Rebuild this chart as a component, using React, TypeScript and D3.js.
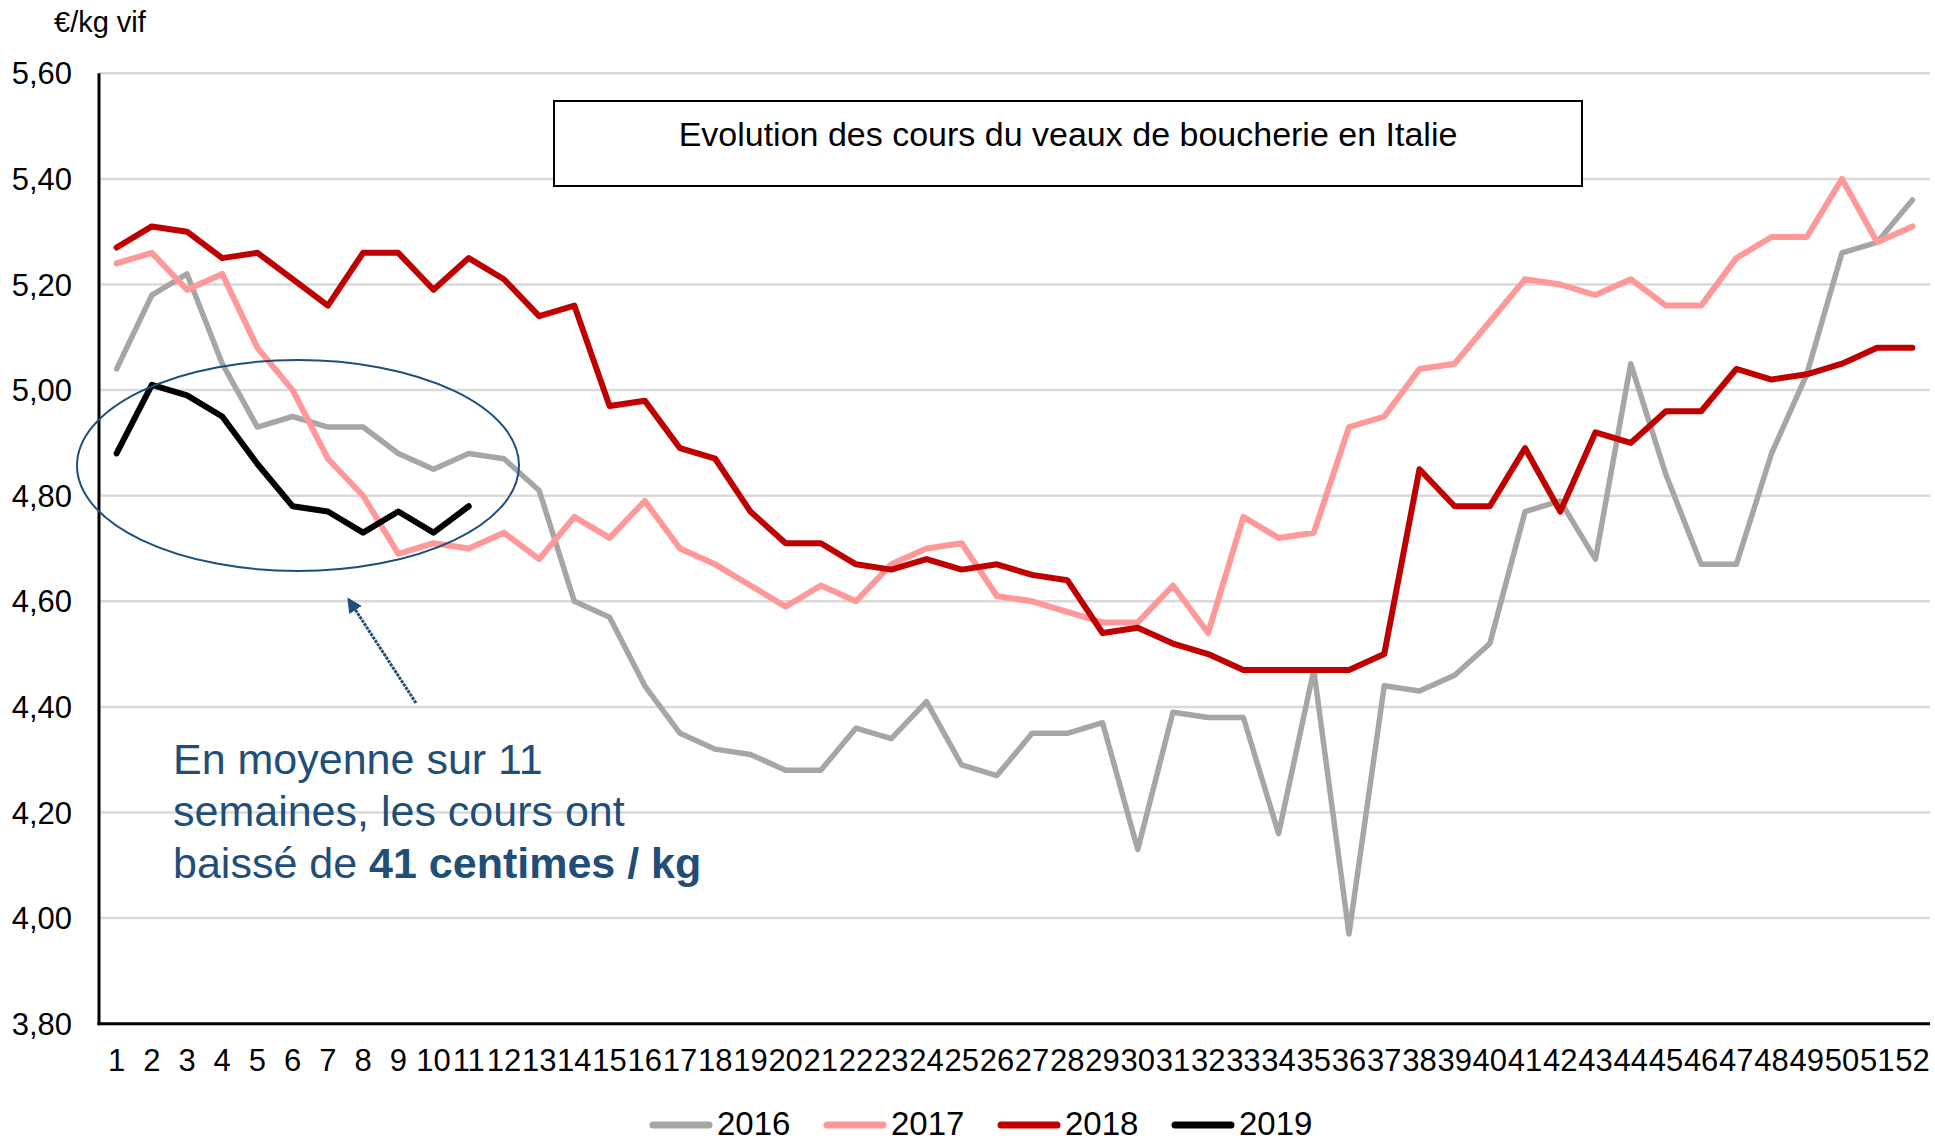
import React from "react";
import * as d3 from "d3";

const weeks: number[] = Array.from({ length: 52 }, (_, i) => i + 1);

const s2016: number[] = [5.04, 5.18, 5.22, 5.05, 4.93, 4.95, 4.93, 4.93, 4.88, 4.85, 4.88, 4.87, 4.81, 4.60, 4.57, 4.44, 4.35, 4.32, 4.31, 4.28, 4.28, 4.36, 4.34, 4.41, 4.29, 4.27, 4.35, 4.35, 4.37, 4.13, 4.39, 4.38, 4.38, 4.16, 4.47, 3.97, 4.44, 4.43, 4.46, 4.52, 4.77, 4.79, 4.68, 5.05, 4.84, 4.67, 4.67, 4.88, 5.03, 5.26, 5.28, 5.36];
const s2017: number[] = [5.24, 5.26, 5.19, 5.22, 5.08, 5.00, 4.87, 4.80, 4.69, 4.71, 4.70, 4.73, 4.68, 4.76, 4.72, 4.79, 4.70, 4.67, 4.63, 4.59, 4.63, 4.60, 4.67, 4.70, 4.71, 4.61, 4.60, 4.58, 4.56, 4.56, 4.63, 4.54, 4.76, 4.72, 4.73, 4.93, 4.95, 5.04, 5.05, 5.13, 5.21, 5.20, 5.18, 5.21, 5.16, 5.16, 5.25, 5.29, 5.29, 5.40, 5.28, 5.31];
const s2018: number[] = [5.27, 5.31, 5.30, 5.25, 5.26, 5.21, 5.16, 5.26, 5.26, 5.19, 5.25, 5.21, 5.14, 5.16, 4.97, 4.98, 4.89, 4.87, 4.77, 4.71, 4.71, 4.67, 4.66, 4.68, 4.66, 4.67, 4.65, 4.64, 4.54, 4.55, 4.52, 4.50, 4.47, 4.47, 4.47, 4.47, 4.50, 4.85, 4.78, 4.78, 4.89, 4.77, 4.92, 4.90, 4.96, 4.96, 5.04, 5.02, 5.03, 5.05, 5.08, 5.08];
const s2019: number[] = [4.88, 5.01, 4.99, 4.95, 4.86, 4.78, 4.77, 4.73, 4.77, 4.73, 4.78];

const yTicks: number[] = [3.8, 4.0, 4.2, 4.4, 4.6, 4.8, 5.0, 5.2, 5.4, 5.6];
const seriesNames: string[] = ["2016", "2017", "2018", "2019"];
const seriesColors: string[] = ["#A6A6A6", "#FF9999", "#C00000", "#000000"];
const seriesData: number[][] = [s2016, s2017, s2018, s2019];

const title = "Evolution des cours du veaux de boucherie en Italie";
const unitLabel = "€/kg vif";
const noteLines: string[] = ["En moyenne sur 11", "semaines, les cours ont", "baissé de "];
const noteBold = "41 centimes / kg";

const W = 1935;
const H = 1138;
const FONT = "'Liberation Sans', Arial, sans-serif";
const BLUE = "#1F4E79";

export default function App() {
  const left = 99;
  const right = 1930;
  const top = 73.3;
  const bottom = 1023.7;

  const x = d3.scalePoint<number>().domain(weeks).range([left, right]).padding(0.5);
  const y = d3.scaleLinear().domain([3.8, 5.6]).range([bottom, top]);

  const line = d3
    .line<number>()
    .x((_, i) => x(weeks[i]) as number)
    .y((d) => y(d));

  const fmt = (v: number) => v.toFixed(2).replace(".", ",");

  return (
    <svg
      width={W}
      height={H}
      style={{ position: "absolute", left: 0, top: 0, background: "#fff" }}
      fontFamily={FONT}
    >
      <rect x={0} y={0} width={W} height={H} fill="#fff" />
      {/* gridlines */}
      {yTicks
        .filter((t) => t > 3.81)
        .map((t) => (
          <line key={t} x1={left} x2={right} y1={y(t)} y2={y(t)} stroke="#D9D9D9" strokeWidth={2.5} />
        ))}
      {/* y tick labels */}
      {yTicks.map((t) => (
        <text key={"l" + t} x={72} y={y(t)} dy="0.36em" textAnchor="end" fontSize={31} fill="#000">
          {fmt(t)}
        </text>
      ))}
      {/* x tick labels */}
      {weeks.map((w) => (
        <text key={"w" + w} x={x(w) as number} y={1071} textAnchor="middle" fontSize={31} fill="#000">
          {w}
        </text>
      ))}
      {/* title box */}
      <rect x={554} y={101} width={1028} height={85} fill="#fff" stroke="#000" strokeWidth={2} />
      <text x={1068} y={146} textAnchor="middle" fontSize={34} fill="#000">
        {title}
      </text>
      {/* series */}
      {seriesData.map((d, i) => (
        <path
          key={seriesNames[i]}
          d={line(d) as string}
          fill="none"
          stroke={seriesColors[i]}
          strokeWidth={i === 0 ? 5.5 : 6}
          strokeLinejoin="round"
          strokeLinecap="round"
        />
      ))}
      {/* axes */}
      <line x1={left} x2={left} y1={top} y2={bottom + 1.5} stroke="#000" strokeWidth={3} />
      <line x1={left - 1.5} x2={right} y1={bottom} y2={bottom} stroke="#000" strokeWidth={3} />
      {/* unit label */}
      <text x={54} y={32} fontSize={29} fill="#000">
        {unitLabel}
      </text>
      {/* ellipse */}
      <ellipse cx={298} cy={465.5} rx={221} ry={105.5} fill="none" stroke={BLUE} strokeWidth={2} />
      {/* arrow */}
      <defs>
        <marker id="ah" viewBox="0 0 10 10" refX={8} refY={5} markerWidth={5} markerHeight={5} orient="auto">
          <path d="M0,0 L10,5 L0,10 z" fill={BLUE} />
        </marker>
      </defs>
      <line x1={416} y1={703} x2={349} y2={600} stroke={BLUE} strokeWidth={3} strokeDasharray="3,1" markerEnd="url(#ah)" />
      {/* note */}
      {noteLines.map((t, i) => (
        <text key={"n" + i} x={173} y={774 + i * 52} fontSize={43} fill={BLUE}>
          {t}
          {i === 2 ? <tspan fontWeight="bold">{noteBold}</tspan> : null}
        </text>
      ))}
      {/* legend */}
      {seriesNames.map((n, i) => {
        const lx = 650 + i * 174;
        return (
          <g key={"lg" + n}>
            <line x1={lx + 3} x2={lx + 59} y1={1125} y2={1125} stroke={seriesColors[i]} strokeWidth={7} strokeLinecap="round" />
            <text x={lx + 67} y={1135} fontSize={33} fill="#000">
              {n}
            </text>
          </g>
        );
      })}
    </svg>
  );
}
